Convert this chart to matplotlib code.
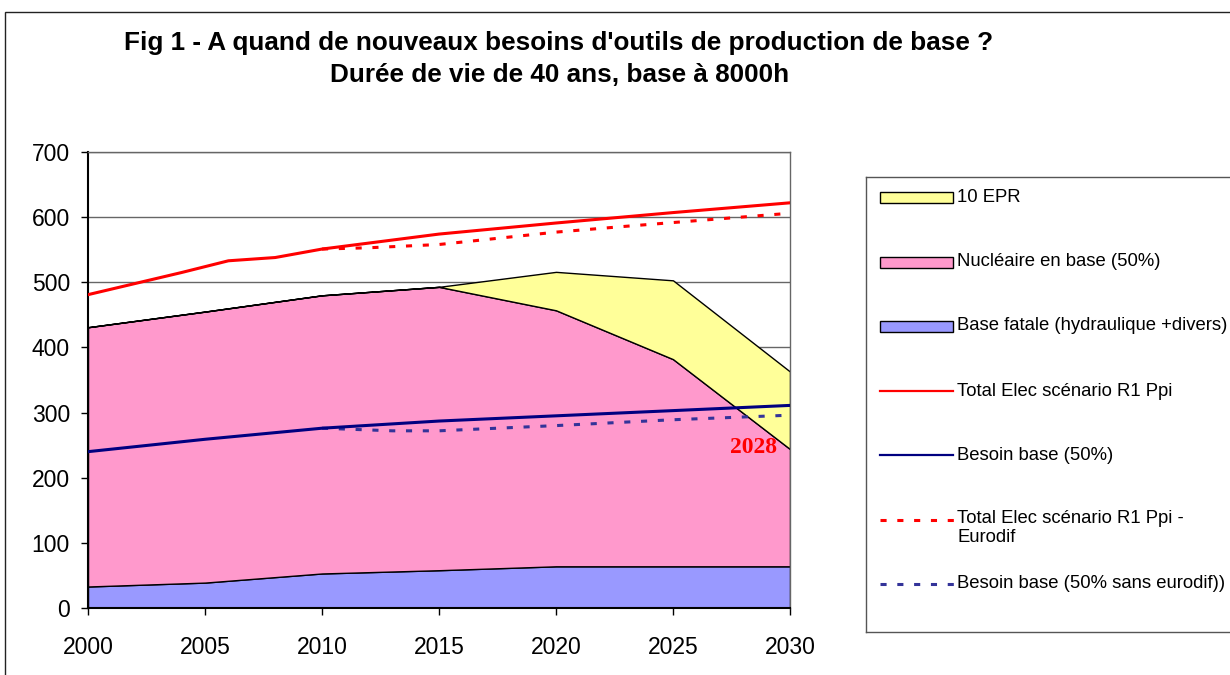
import matplotlib
matplotlib.use('Agg')
import matplotlib.pyplot as plt
from matplotlib.patches import Rectangle

# ---- data ----
years = [2000, 2005, 2010, 2015, 2020, 2025, 2030]
base_fatale = [33, 39, 53, 58, 64, 64, 64]
nucleaire = [398, 416, 427, 435, 393, 318, 180]
epr = [0, 0, 0, 0, 59, 121, 119]

total_years = [2000, 2004, 2006, 2008, 2010, 2015, 2020, 2025, 2030]
total_elec = [481, 515, 533, 538, 551, 574, 591, 607, 622]

eurodif_years = [2010, 2012, 2015, 2020, 2023, 2030]
total_eurodif = [551, 553, 558, 577, 586, 606]

besoin_base = [240, 259, 276, 287, 295, 303, 311]

sans_years = [2010, 2013, 2015, 2020, 2025, 2030]
besoin_sans = [276, 272, 272, 280, 289, 296]

labels = ['10 EPR', 'Nucléaire en base (50%)', 'Base fatale (hydraulique +divers)',
          'Total Elec scénario R1 Ppi', 'Besoin base (50%)',
          'Total Elec scénario R1 Ppi -\nEurodif', 'Besoin base (50% sans eurodif))']

# ---- style ----
plt.rcParams['font.family'] = ['Liberation Sans', 'DejaVu Sans']
W, H = 1230, 675
c_yellow, c_pink, c_blue = '#FFFF99', '#FF99CC', '#9999FF'
c_red, c_navy, c_dblue = '#FF0000', '#000080', '#333399'
dash = (0, (2, 3.5))

fig = plt.figure(figsize=(W / 100, H / 100), dpi=100)
fig.patches.append(Rectangle((5 / W, -0.1), 1.2, (H - 12) / H + 0.1, transform=fig.transFigure,
                             fill=False, edgecolor='#222222', linewidth=1))

ax = fig.add_axes([88 / W, (H - 608) / H, 702 / W, 456 / H])

# stacked areas
lvl1 = [b for b in base_fatale]
lvl2 = [b + n for b, n in zip(base_fatale, nucleaire)]
lvl3 = [t + e for t, e in zip(lvl2, epr)]
ax.fill_between(years, 0, lvl1, facecolor=c_blue, edgecolor='black', linewidth=1, zorder=2)
ax.fill_between(years, lvl1, lvl2, facecolor=c_pink, edgecolor='black', linewidth=1, zorder=2)
ax.fill_between(years, lvl2, lvl3, facecolor=c_yellow, edgecolor='black', linewidth=1, zorder=2)

# lines
ax.plot(total_years, total_elec, color=c_red, linewidth=2.2, zorder=4)
ax.plot(years, besoin_base, color=c_navy, linewidth=2.2, zorder=4)
ax.plot(eurodif_years, total_eurodif, color=c_red, linewidth=2.2, linestyle=dash, zorder=3)
ax.plot(sans_years, besoin_sans, color=c_dblue, linewidth=2.2, linestyle=dash, zorder=3)

ax.text(2028.45, 247, '2028', color=c_red, fontsize=17, fontweight='bold',
        family='Liberation Serif', ha='center', va='center', zorder=5)

ax.set_xlim(2000, 2030)
ax.set_ylim(0, 700)
ax.set_xticks(years)
ax.set_xticks([2002.5, 2007.5, 2012.5, 2017.5, 2022.5, 2027.5], minor=True)
ax.set_yticks(range(0, 701, 100))
ax.yaxis.grid(True, color='#666666', linewidth=1)
ax.set_axisbelow(True)
ax.tick_params(axis='both', which='major', labelsize=16.5, direction='out', length=5, width=1)
ax.tick_params(axis='x', which='major', pad=15)
ax.tick_params(axis='y', which='major', pad=8)
ax.tick_params(axis='x', which='minor', direction='in', length=4.5, width=1)
for s in ['left', 'bottom']:
    ax.spines[s].set_color('black')
    ax.spines[s].set_linewidth(1.5)
for s in ['top', 'right']:
    ax.spines[s].set_color('#666666')
    ax.spines[s].set_linewidth(1)

# title
fig.text(559 / W, 1 - 43 / H, 'Fig 1 - A quand de nouveaux besoins d\'outils de production de base ?',
         ha='center', va='center', fontsize=18.8, fontweight='bold')
fig.text(560 / W, 1 - 75 / H, 'Durée de vie de 40 ans, base à 8000h',
         ha='center', va='center', fontsize=18.8, fontweight='bold')

# legend box (pixel coordinates)
lax = fig.add_axes([866 / W, (H - 632) / H, (1250 - 866) / W, (632 - 177) / H])
lax.set_xlim(866, 1250)
lax.set_ylim(632, 177)
lax.set_xticks([])
lax.set_yticks([])
for s in lax.spines.values():
    s.set_color('#555555')
    s.set_linewidth(1)

entry_y = [197, 262, 326, 391, 455, 520, 584]
patch_colors = [c_yellow, c_pink, c_blue]
for y, col in zip(entry_y[:3], patch_colors):
    lax.add_patch(Rectangle((880, y - 5.5), 73, 11, facecolor=col, edgecolor='black', linewidth=1))
lax.plot([880, 953], [entry_y[3]] * 2, color=c_red, linewidth=1.6)
lax.plot([880, 953], [entry_y[4]] * 2, color=c_navy, linewidth=1.6)
lax.plot([880, 955], [entry_y[5]] * 2, color=c_red, linewidth=2.2, linestyle=dash)
lax.plot([880, 955], [entry_y[6]] * 2, color=c_dblue, linewidth=2.2, linestyle=dash)
for y, lab in zip(entry_y, labels):
    if '\n' in lab:
        lax.text(957, y - 10, lab, fontsize=13.3, ha='left', va='top', linespacing=1.15)
    else:
        lax.text(957, y, lab, fontsize=13.3, ha='left', va='center')

plt.savefig('out.png', dpi=100)
